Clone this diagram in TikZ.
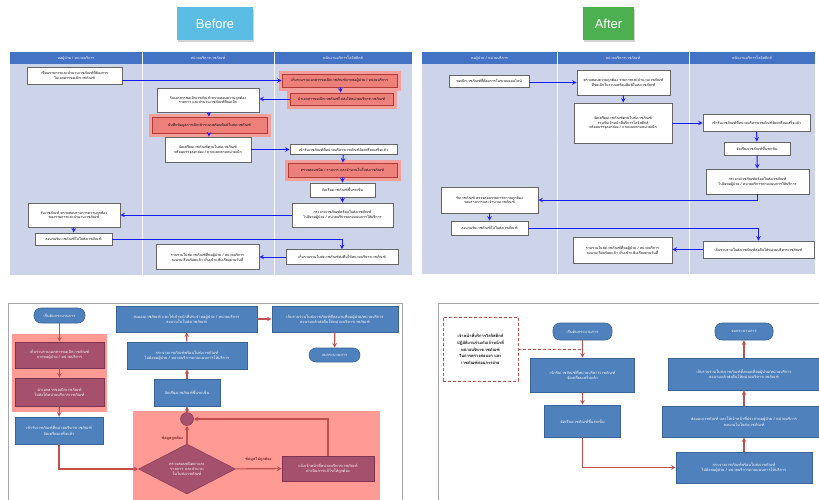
\documentclass[tikz,border=0pt]{standalone}
\usepackage{fontspec}
\setmainfont{Liberation Sans}
\newfontfamily\thaifont[Script=Thai]{Loma}
\usetikzlibrary{shapes.geometric, arrows, positioning, shadows}

\definecolor{laneBlue}{HTML}{CDD3E8}
\definecolor{headBlue}{HTML}{4472C4}
\definecolor{flowBlue}{HTML}{1A1AFF}
\definecolor{boxBlue}{HTML}{4F81BD}
\definecolor{boxBlueLine}{HTML}{3A6496}
\definecolor{noteRed}{HTML}{C0504D}
\definecolor{haloRed}{HTML}{F3A09C}
\definecolor{boxSalmon}{HTML}{EE807B}
\definecolor{darkRed}{HTML}{B03A36}
\definecolor{overRed}{HTML}{FF9A95}
\definecolor{mixRed}{HTML}{A5506C}
\definecolor{mixRedLine}{HTML}{7E3450}
\definecolor{btnBlue}{HTML}{5BBDE4}
\definecolor{btnGreen}{HTML}{4CB050}
\definecolor{frameGray}{HTML}{A6A6A6}
\definecolor{labelRed}{HTML}{6E1C1C}

\begin{document}
\begin{tikzpicture}[x=1pt, y=-1pt,
    % Styles for each node type
    button/.style={rectangle, draw=none, minimum height=33pt, font=\fontsize{13}{15}\selectfont, text=white, drop shadow={shadow xshift=1pt, shadow yshift=-1.5pt, opacity=0.35}},
    lanehead/.style={font=\thaifont\fontsize{3.7}{4.2}\selectfont, text=white},
    task/.style={rectangle, draw=gray!80!black, fill=white, line width=0.8pt, align=center, inner sep=0pt, font=\thaifont\fontsize{3.6}{4.8}\selectfont, drop shadow={shadow xshift=0.7pt, shadow yshift=-0.7pt, opacity=0.2}},
    redtask/.style={task, draw=darkRed, fill=boxSalmon, preaction={draw=haloRed, line width=7pt}},
    bluebox/.style={rectangle, draw=boxBlueLine, fill=boxBlue, line width=0.6pt, text=white, align=center, inner sep=0pt, font=\thaifont\fontsize{3.9}{5.3}\selectfont},
    mixbox/.style={bluebox, fill=mixRed, draw=mixRedLine},
    terminal/.style={bluebox, rounded corners=7pt},
    decision/.style={diamond, aspect=2, fill=mixRed, draw=mixRedLine, text=white, align=center, inner sep=0pt, font=\thaifont\fontsize{3.9}{5.3}\selectfont},
    junction/.style={circle, fill=mixRed, draw=mixRedLine, minimum size=13pt, inner sep=0pt},
    notebox/.style={rectangle, draw=noteRed, densely dashed, line width=0.8pt, fill=white, align=center, inner sep=0pt, font=\thaifont\bfseries\fontsize{4.1}{6.6}\selectfont},
    branchtext/.style={font=\thaifont\bfseries\fontsize{3.9}{4.6}\selectfont, text=labelRed},
    flow/.style={draw=flowBlue, line width=1pt, ->, >=stealth},
    redflow/.style={draw=noteRed, line width=1.1pt, ->, >=stealth},
    notelink/.style={draw=noteRed, densely dashed, line width=0.8pt}
]

\useasboundingbox (0,0) rectangle (819,499);

% Titles
\node[button, fill=btnBlue, minimum width=76pt] (before) at (215,23.5) {Before};
\node[button, fill=btnGreen, minimum width=51pt] (after) at (608.5,23.5) {After};

% ---------------- Before: swimlanes ----------------
\fill[laneBlue] (10,52) rectangle (412,275);
\fill[headBlue] (10,52) rectangle (412,64);
\draw[white!85!laneBlue, line width=0.6pt] (142,52) -- (142,275);
\draw[white!85!laneBlue, line width=0.6pt] (274,52) -- (274,275);
\node[lanehead] (bh1) at (76,58) {หอผู้ป่วย / หน่วยบริการ};
\node[lanehead] (bh2) at (208,58) {หน่วยบริหารเวชภัณฑ์};
\node[lanehead] (bh3) at (343,58) {พนักงานบริการโลจิสติกส์};

% Ward lane
\node[task, minimum width=95pt, minimum height=17pt] (a1) at (74.5,75.5) {เขียนรายการและจำนวนเวชภัณฑ์ที่ต้องการ\\ในเอกสารขอเบิกเวชภัณฑ์};
\node[task, minimum width=92pt, minimum height=24pt] (a2) at (74,215) {รับเวชภัณฑ์ ตรวจสอบรายการความถูกต้อง\\ของรายการและจำนวนเวชภัณฑ์};
\node[task, minimum width=77pt, minimum height=12pt] (a3) at (73.5,239) {ลงนามรับเวชภัณฑ์ในใบส่งเวชภัณฑ์};

% Supply unit lane
\node[task, minimum width=102pt, minimum height=24pt] (b1) at (208,100) {รับเอกสารขอเบิกเวชภัณฑ์ ตรวจสอบความถูกต้อง\\รายการ และจำนวนเวชภัณฑ์ที่ขอเบิก};
\node[redtask, minimum width=115pt, minimum height=16pt] (b2) at (209.5,125) {บันทึกข้อมูลการเบิกเข้าระบบพร้อมพิมพ์ใบส่งเวชภัณฑ์};
\node[task, minimum width=86pt, minimum height=25pt] (b3) at (208,149.5) {จัดเตรียมเวชภัณฑ์ตามใบส่งเวชภัณฑ์\\พร้อมบรรจุลงกล่อง / ถาดแยกตามหน่วยเบิก};
\node[task, minimum width=103pt, minimum height=25pt] (b4) at (207.5,257) {รวบรวมใบส่งเวชภัณฑ์ที่หอผู้ป่วย / หน่วยบริการ\\ลงนามเรียบร้อยแล้ว เก็บเข้าแฟ้มเรียงตามวันที่};

% Logistics lane
\node[redtask, minimum width=115pt, minimum height=13pt] (r1) at (339.5,80.5) {เก็บรวบรวมเอกสารขอเบิกเวชภัณฑ์จากหอผู้ป่วย / หน่วยบริการ};
\node[redtask, minimum width=103pt, minimum height=12pt] (r2) at (341.5,99) {นำเอกสารขอเบิกเวชภัณฑ์ไปส่งให้หน่วยบริหารเวชภัณฑ์};
\node[task, minimum width=107pt, minimum height=10pt] (c3) at (343.5,149.5) {เข้ารับเวชภัณฑ์ที่หน่วยบริหารเวชภัณฑ์จัดเตรียมเสร็จแล้ว};
\node[redtask, minimum width=109pt, minimum height=14pt] (c4) at (342.5,170) {ตรวจสอบชนิด / รายการ และจำนวนในใบส่งเวชภัณฑ์};
\node[task, minimum width=65pt, minimum height=14pt] (c5) at (342.5,190) {จัดเรียงเวชภัณฑ์ขึ้นรถเข็น};
\node[task, minimum width=101pt, minimum height=24pt] (c6) at (342.5,215) {กระจายเวชภัณฑ์พร้อมใบส่งเวชภัณฑ์\\ไปยังหอผู้ป่วย / หน่วยบริการตามแผนการให้บริการ};
\node[task, minimum width=112pt, minimum height=15pt] (c7) at (342,257) {เก็บรวบรวมใบส่งเวชภัณฑ์ส่งคืนให้หน่วยบริหารเวชภัณฑ์};

% Before connectors
\draw[flow] (a1.east |- r1.west) -- (r1.west);
\draw[flow] (r1) -- (r2);
\draw[flow] (r2.west) -- (r2.west -| b1.east);
\draw[flow] (b1) -- (b2);
\draw[flow] (b2) -- (b3);
\draw[flow] (b3) -- (c3);
\draw[flow] (c3) -- (c4);
\draw[flow] (c4) -- (c5);
\draw[flow] (c5) -- (c6);
\draw[flow] (c6) -- (a2);
\draw[flow] (a2) -- (a3);
\draw[flow] (a3) -| (c7);
\draw[flow] (c7) -- (b4);

% ---------------- After: swimlanes ----------------
\fill[laneBlue] (422,52) rectangle (815,274);
\fill[headBlue] (422,52) rectangle (815,64);
\draw[white!85!laneBlue, line width=0.6pt] (557,52) -- (557,274);
\draw[white!85!laneBlue, line width=0.6pt] (689,52) -- (689,274);
\node[lanehead] (ah1) at (489.5,58) {หอผู้ป่วย / หน่วยบริการ};
\node[lanehead] (ah2) at (623,58) {หน่วยบริหารเวชภัณฑ์};
\node[lanehead] (ah3) at (752,58) {พนักงานบริการโลจิสติกส์};

% Ward lane
\node[task, minimum width=80pt, minimum height=12pt] (na1) at (489,81) {ขอเบิกเวชภัณฑ์ที่ต้องการในระบบออนไลน์};
\node[task, minimum width=97pt, minimum height=26pt] (na2) at (489.5,200) {รับเวชภัณฑ์ ตรวจสอบรายการความถูกต้อง\\ของรายการและจำนวนเวชภัณฑ์};
\node[task, minimum width=77pt, minimum height=14pt] (na3) at (489.5,228) {ลงนามรับเวชภัณฑ์ในใบส่งเวชภัณฑ์};

% Supply unit lane
\node[task, minimum width=93pt, minimum height=25pt] (nb1) at (623.5,82.5) {ตรวจสอบความถูกต้อง รายการและจำนวนเวชภัณฑ์\\ที่ขอเบิกในระบบพร้อมพิมพ์ใบส่งเวชภัณฑ์};
\node[task, minimum width=98pt, minimum height=40pt] (nb2) at (623,123) {จัดเตรียมเวชภัณฑ์ตามใบส่งเวชภัณฑ์\\ร่วมกับเจ้าหน้าที่บริการโลจิสติกส์\\พร้อมบรรจุลงกล่อง / ถาดแยกตามหน่วยเบิก};
\node[task, minimum width=99pt, minimum height=26pt] (nb3) at (622.5,250) {รวบรวมใบส่งเวชภัณฑ์ที่หอผู้ป่วย / หน่วยบริการ\\ลงนามเรียบร้อยแล้ว เก็บเข้าแฟ้มเรียงตามวันที่};

% Logistics lane
\node[task, minimum width=107pt, minimum height=17pt] (nc1) at (756.5,123) {เข้ารับเวชภัณฑ์ที่หน่วยบริหารเวชภัณฑ์จัดเตรียมเสร็จแล้ว};
\node[task, minimum width=66pt, minimum height=13pt] (nc2) at (757,148.5) {จัดเรียงเวชภัณฑ์ขึ้นรถเข็น};
\node[task, minimum width=103pt, minimum height=25pt] (nc3) at (757.5,181.5) {กระจายเวชภัณฑ์พร้อมใบส่งเวชภัณฑ์\\ไปยังหอผู้ป่วย / หน่วยบริการตามแผนการให้บริการ};
\node[task, minimum width=111pt, minimum height=17pt] (nc4) at (758.5,249.5) {เก็บรวบรวมใบส่งเวชภัณฑ์ส่งคืนให้หน่วยบริหารเวชภัณฑ์};

% After connectors
\draw[flow] (na1.east |- nb1.west) -- (nb1.west);
\draw[flow] (nb1) -- (nb2);
\draw[flow] (nb2) -- (nc1);
\draw[flow] (nc1) -- (nc2);
\draw[flow] (nc2) -- (nc3);
\draw[flow] (nc3) |- (na2);
\draw[flow] (na2) -- (na3);
\draw[flow] (na3) -| (nc4);
\draw[flow] (nc4.west) -- (nc4.west -| nb3.east);

% ---------------- Before: flowchart ----------------
\draw[frameGray, line width=1pt] (8,510) -- (8,303) -- (402,303) -- (402,510);
\fill[overRed] (12,334) rectangle (107,412);
\fill[overRed] (133,411) rectangle (380,510);

\node[terminal, minimum width=51pt, minimum height=15pt] (bs) at (59.5,315.5) {เริ่มต้นกระบวนการ};
\node[mixbox, minimum width=89pt, minimum height=26pt] (q1) at (59.5,355) {เก็บรวบรวมเอกสารขอเบิกเวชภัณฑ์\\จากหอผู้ป่วย / หน่วยบริการ};
\node[mixbox, minimum width=89pt, minimum height=28pt] (q2) at (59.5,392) {นำเอกสารขอเบิกเวชภัณฑ์\\ไปส่งให้หน่วยบริหารเวชภัณฑ์};
\node[bluebox, minimum width=88pt, minimum height=27pt] (q3) at (59,430.5) {เข้ารับเวชภัณฑ์ที่หน่วยบริหารเวชภัณฑ์\\จัดเตรียมเสร็จแล้ว};
\node[decision, minimum width=97pt, minimum height=50pt] (dq) at (187,469) {ตรวจสอบชนิดยาและ\\รายการ และจำนวน\\ในใบส่งเวชภัณฑ์};
\node[junction] (cc) at (187,419) {};
\node[bluebox, minimum width=66pt, minimum height=27pt] (q4) at (187,392.5) {จัดเรียงเวชภัณฑ์ขึ้นรถเข็น};
\node[bluebox, minimum width=120pt, minimum height=27pt] (q5) at (187,355.5) {กระจายเวชภัณฑ์พร้อมใบส่งเวชภัณฑ์\\ไปยังหอผู้ป่วย / หน่วยบริการตามแผนการให้บริการ};
\node[bluebox, minimum width=141pt, minimum height=26pt] (q6) at (186.5,319) {ส่งมอบเวชภัณฑ์ และให้เจ้าหน้าที่ประจำหอผู้ป่วย / หน่วยบริการ\\ลงนามในใบส่งเวชภัณฑ์};
\node[bluebox, minimum width=126pt, minimum height=26pt] (q7) at (335,319) {เก็บรวบรวมใบส่งเวชภัณฑ์ที่ลงนามที่หอผู้ป่วย/หน่วยบริการ\\ลงนามแล้วส่งคืนให้หน่วยบริหารเวชภัณฑ์};
\node[terminal, minimum width=51pt, minimum height=14pt] (be) at (334.5,355) {จบกระบวนการ};
\node[mixbox, minimum width=92pt, minimum height=25pt] (q8) at (328,468.5) {แจ้งเจ้าหน้าที่หน่วยบริหารเวชภัณฑ์\\ดำเนินการแก้ไขให้ถูกต้อง};

\draw[redflow] (bs) -- (q1);
\draw[redflow] (q1) -- (q2);
\draw[redflow] (q2) -- (q3);
\draw[redflow] (q3) |- (dq);
\draw[redflow] (dq) -- node[branchtext, left, pos=0.3] {ข้อมูลถูกต้อง} (cc);
\draw[redflow] (cc) -- (q4);
\draw[redflow] (q4) -- (q5);
\draw[redflow] (q5) -- (q6);
\draw[redflow] (q6) -- (q7);
\draw[redflow] (q7) -- (be);
\draw[redflow] (dq) -- node[branchtext, above=3pt] {ข้อมูลไม่ถูกต้อง} (q8);
\draw[redflow] (q8) |- (cc);

% ---------------- After: flowchart ----------------
\draw[frameGray, line width=1pt] (438,510) -- (438,303) -- (830,303);

\node[notebox, minimum width=75pt, minimum height=64pt] (nt) at (480.5,349) {เจ้าหน้าที่บริการโลจิสติกส์\\ปฏิบัติงานร่วมกับเจ้าหน้าที่\\หน่วยบริหารเวชภัณฑ์\\ในการตรวจสอบยา และ\\เวชภัณฑ์ก่อนการจ่าย};
\node[terminal, minimum width=59pt, minimum height=17pt] (nps) at (582.5,331.5) {เริ่มต้นกระบวนการ};
\node[bluebox, minimum width=104pt, minimum height=34pt] (np1) at (582.5,375) {เข้ารับเวชภัณฑ์ที่หน่วยบริหารเวชภัณฑ์\\จัดเตรียมเสร็จแล้ว};
\node[bluebox, minimum width=76pt, minimum height=32pt] (np2) at (582.5,421) {จัดเรียงเวชภัณฑ์ขึ้นรถเข็น};
\node[bluebox, minimum width=136pt, minimum height=31pt] (np3) at (744,467.5) {กระจายเวชภัณฑ์พร้อมใบส่งเวชภัณฑ์\\ไปยังหอผู้ป่วย / หน่วยบริการตามแผนการให้บริการ};
\node[bluebox, minimum width=164pt, minimum height=31pt] (np4) at (744,421.5) {ส่งมอบเวชภัณฑ์ และให้เจ้าหน้าที่ประจำหอผู้ป่วย / หน่วยบริการ\\ลงนามในใบส่งเวชภัณฑ์};
\node[bluebox, minimum width=152pt, minimum height=32pt] (np5) at (744,374) {เก็บรวบรวมใบส่งเวชภัณฑ์ทั้งหมดที่หอผู้ป่วย/หน่วยบริการ\\ลงนามแล้วส่งคืนให้หน่วยบริหารเวชภัณฑ์};
\node[terminal, minimum width=58pt, minimum height=17pt] (npe) at (744,331.5) {จบกระบวนการ};

\coordinate (nj) at (582.5,349);
\draw[notelink] (nt) -- (nj);
\draw[redflow] (nps) -- (np1);
\draw[redflow] (np1) -- (np2);
\draw[redflow] (np2) |- (np3);
\draw[redflow] (np3) -- (np4);
\draw[redflow] (np4) -- (np5);
\draw[redflow] (np5) -- (npe);

\end{tikzpicture}
\end{document}
